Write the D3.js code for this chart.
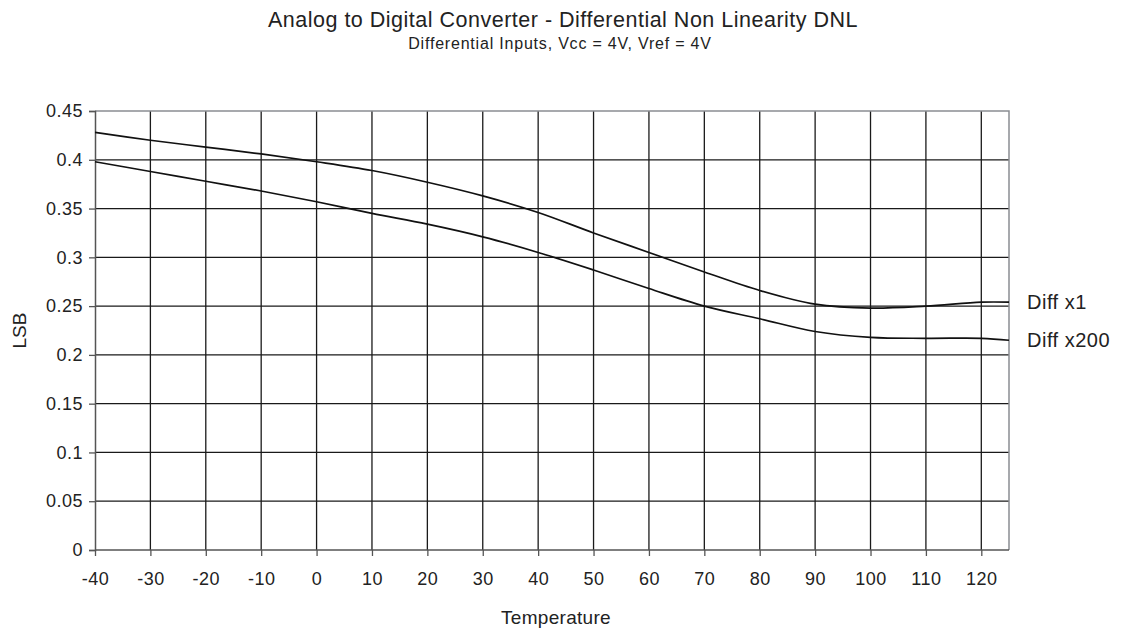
<!DOCTYPE html>
<html><head><meta charset="utf-8">
<script src="https://cdn.jsdelivr.net/npm/d3@7"></script>
<style>
html,body{margin:0;padding:0;background:#fff;}
text{font-family:"Liberation Sans",Arial,sans-serif;fill:#222;}
</style></head>
<body>
<svg id="chart" width="1127" height="633"></svg>
<script>
const titleText = "Analog to Digital Converter - Differential  Non Linearity DNL";
const subtitleText = "Differential Inputs, Vcc = 4V, Vref = 4V";
const xLabel = "Temperature";
const yLabel = "LSB";
const xTicks = [-40,-30,-20,-10,0,10,20,30,40,50,60,70,80,90,100,110,120];
const yTicks = [0,0.05,0.1,0.15,0.2,0.25,0.3,0.35,0.4,0.45];
const seriesNames = ["Diff x1","Diff x200"];
const temps = [-40,-30,-20,-10,0,10,20,30,40,50,60,70,80,90,100,110,120,125];
const diffX1 = [0.428,0.420,0.413,0.406,0.398,0.389,0.377,0.363,0.346,0.325,0.305,0.285,0.266,0.252,0.248,0.250,0.254,0.254];
const diffX200 = [0.398,0.388,0.378,0.368,0.357,0.345,0.334,0.321,0.305,0.287,0.268,0.250,0.237,0.224,0.218,0.217,0.217,0.215];

const svg = d3.select("#chart");
const L = 95, R = 1009, T = 111, B = 550;
const x = d3.scaleLinear().domain([-40,125]).range([L,R]);
const y = d3.scaleLinear().domain([0,0.45]).range([B,T]);

// grid
svg.append("g").selectAll("line").data(yTicks.filter(d=>d>0 && d<0.45)).join("line")
  .attr("x1",L).attr("x2",R).attr("y1",d=>y(d)).attr("y2",d=>y(d))
  .attr("stroke","#1a1a1a").attr("stroke-width",1.3);
svg.append("g").selectAll("line").data(xTicks.filter(d=>d>-40)).join("line")
  .attr("y1",T).attr("y2",B).attr("x1",d=>x(d)).attr("x2",d=>x(d))
  .attr("stroke","#1a1a1a").attr("stroke-width",1.3);
// border top/right
svg.append("path").attr("d",`M${L},${T}H${R}V${B}`).attr("fill","none")
  .attr("stroke","#8a8d92").attr("stroke-width",1.5);

// axes
const xa = svg.append("g").attr("transform",`translate(0,${B})`)
  .call(d3.axisBottom(x).tickValues(xTicks).tickSize(6).tickPadding(16).tickFormat(d=>String(d)));
const ya = svg.append("g").attr("transform",`translate(${L},0)`)
  .call(d3.axisLeft(y).tickValues(yTicks).tickSize(6).tickPadding(6).tickFormat(d=>String(+d.toFixed(2))));
[xa,ya].forEach(a=>{
  a.select(".domain").attr("stroke","#555").attr("stroke-width",1.5);
  a.selectAll(".tick line").attr("stroke","#555").attr("stroke-width",1.3);
  a.selectAll("text").style("font-family",'"Liberation Sans",Arial,sans-serif')
   .style("font-size","18px").style("letter-spacing","0.5px").attr("fill","#222");
});
xa.select(".domain").attr("d",`M${L},0H${R}`);

// lines
const line = d3.line().x(d=>x(d[0])).y(d=>y(d[1])).curve(d3.curveCatmullRom.alpha(0.5));
const s1 = temps.map((t,i)=>[t,diffX1[i]]);
const s2 = temps.map((t,i)=>[t,diffX200[i]]);
[s1,s2].forEach(s=>{
  svg.append("path").datum(s).attr("d",line).attr("fill","none")
    .attr("stroke","#111").attr("stroke-width",1.7);
});

// series labels
[[seriesNames[0],diffX1[diffX1.length-1]],[seriesNames[1],diffX200[diffX200.length-1]]].forEach(([n,v])=>{
  svg.append("text").attr("x",R+18).attr("y",y(v)).attr("dy","0.35em")
    .style("font-size","20px").style("letter-spacing","0.5px").text(n);
});

// titles
svg.append("text").attr("x",563).attr("y",27).attr("text-anchor","middle")
  .style("font-size","21.5px").style("letter-spacing","0.5px").text(titleText);
svg.append("text").attr("x",560).attr("y",49).attr("text-anchor","middle")
  .style("font-size","16px").style("letter-spacing","0.8px").text(subtitleText);
svg.append("text").attr("x",556).attr("y",624).attr("text-anchor","middle")
  .style("font-size","19px").style("letter-spacing","0.3px").text(xLabel);
svg.append("text").attr("transform",`translate(19,${(T+B)/2}) rotate(-90)`)
  .attr("text-anchor","middle").attr("dy","0.35em").style("font-size","19px").text(yLabel);
</script>
</body></html>
